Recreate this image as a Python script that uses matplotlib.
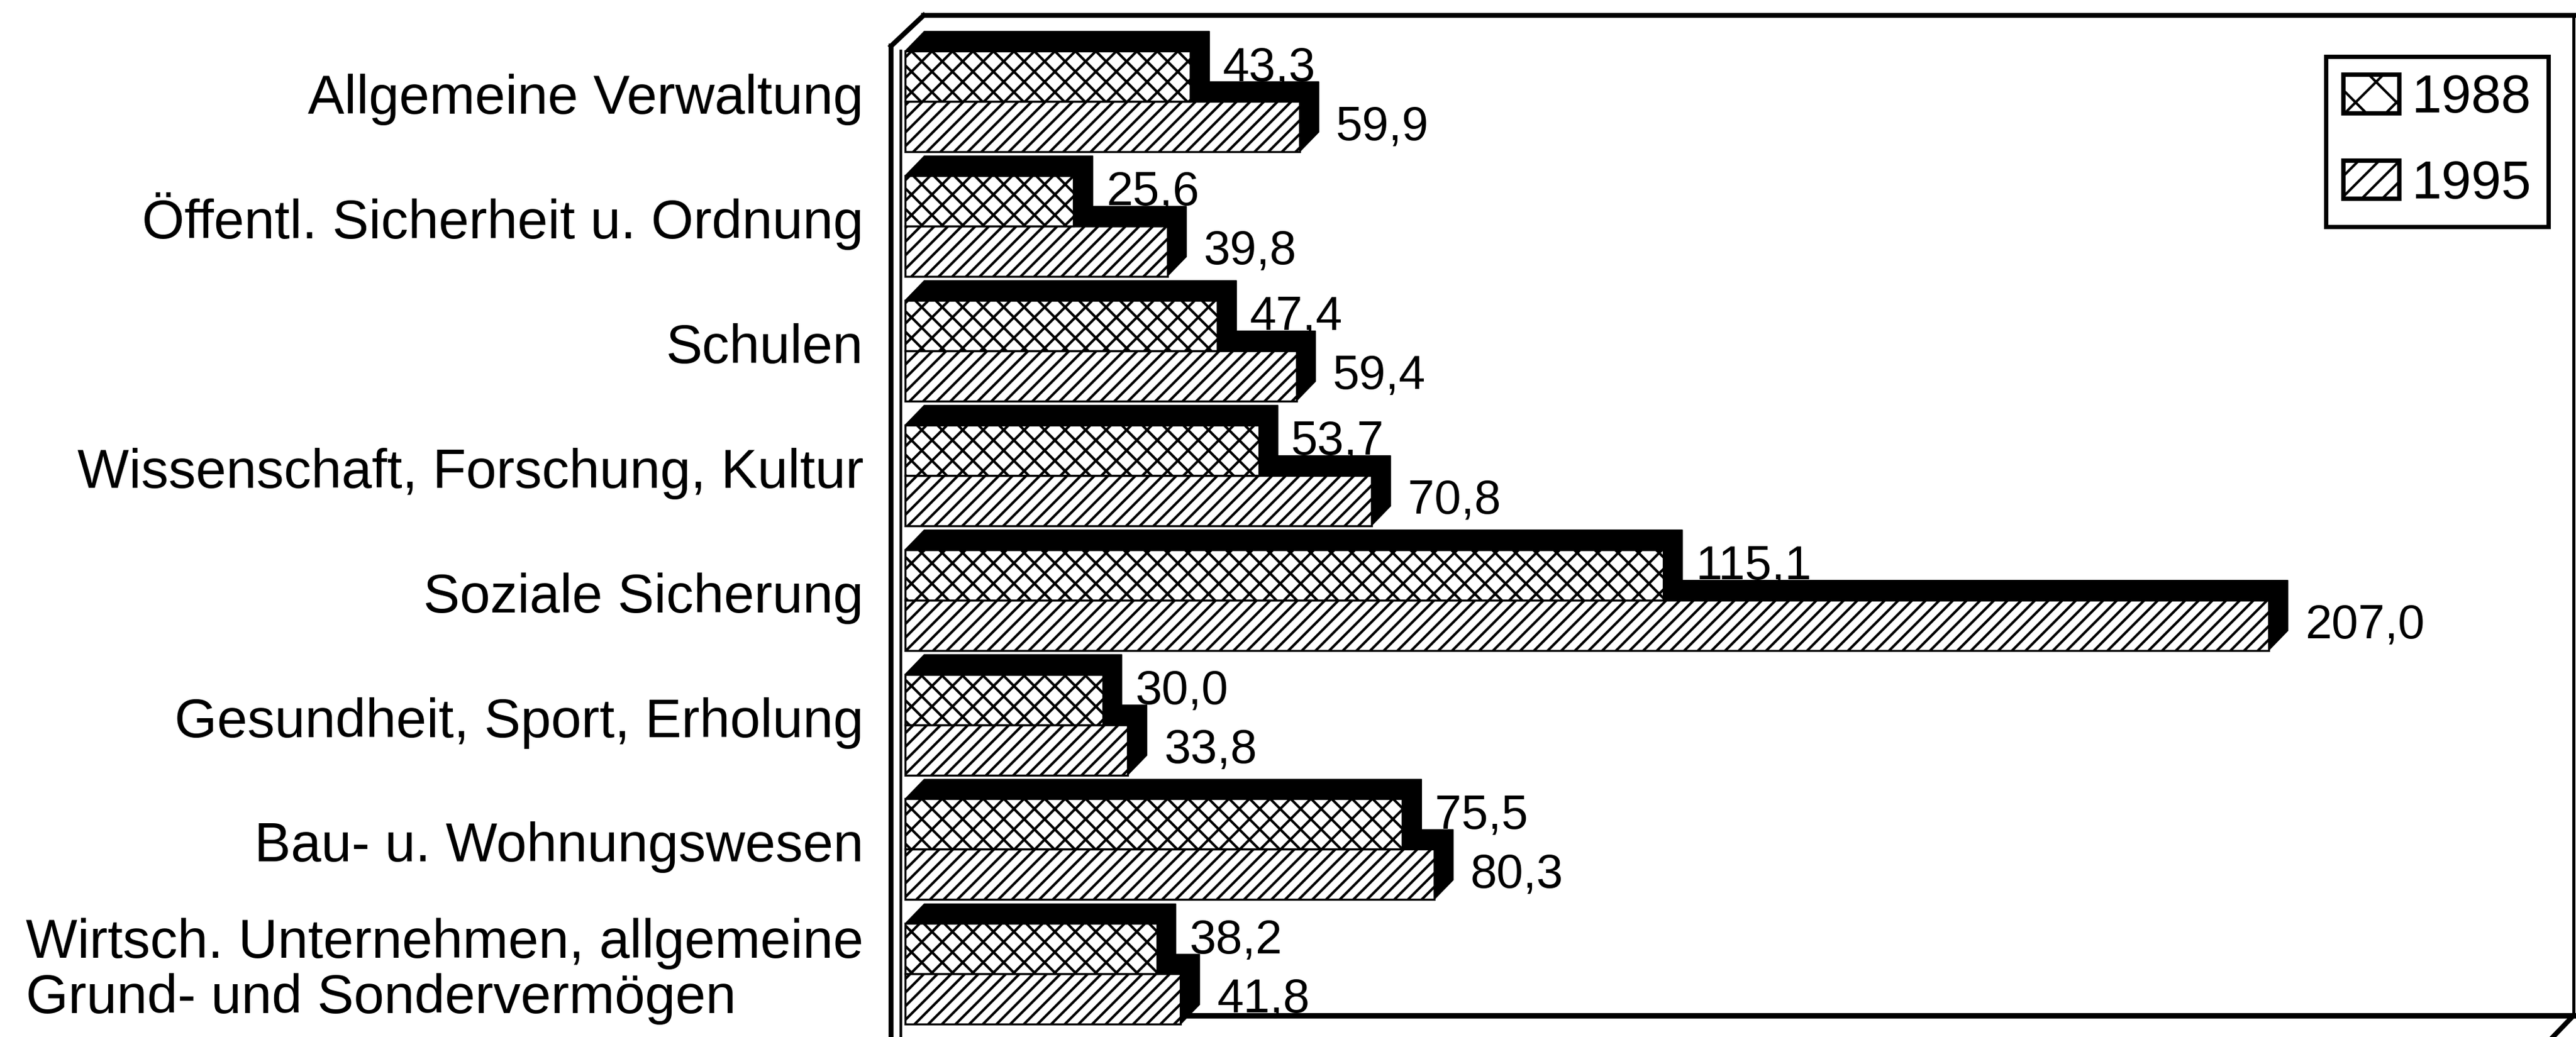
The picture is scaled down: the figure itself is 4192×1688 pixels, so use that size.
import matplotlib
matplotlib.use("Agg")
import matplotlib.pyplot as plt
from matplotlib.patches import Polygon, Rectangle, Patch

# Ausgaben nach Aufgabenbereichen (Mrd.)
categories = [
    "Allgemeine Verwaltung",
    "Öffentl. Sicherheit u. Ordnung",
    "Schulen",
    "Wissenschaft, Forschung, Kultur",
    "Soziale Sicherung",
    "Gesundheit, Sport, Erholung",
    "Bau- u. Wohnungswesen",
    "Wirtsch. Unternehmen, allgemeine\nGrund- und Sondervermögen",
]
values_1988 = [43.3, 25.6, 47.4, 53.7, 115.1, 30.0, 75.5, 38.2]
values_1995 = [59.9, 39.8, 59.4, 70.8, 207.0, 33.8, 80.3, 41.8]
years = ["1988", "1995"]
hatches = ["xx", "///"]

plt.rcParams['font.family'] = ['Liberation Sans', 'DejaVu Sans']
plt.rcParams['hatch.linewidth'] = 1.5
plt.rcParams['hatch.color'] = 'black'

W, H, DPI = 4192, 1688, 200
X0 = 1473          # pixel column of value 0
PPU = 10.72        # pixels per value unit
TOP = 83           # pixel row of the first bar face
ROW = 202.9        # pixels per category

fig = plt.figure(figsize=(W / DPI, H / DPI), dpi=DPI)
ax = fig.add_axes([0, 0, 1, 1])
ax.set_xlim(-X0 / PPU, (W - X0) / PPU)
ax.set_ylim((H - TOP) / ROW, -TOP / ROW)
ax.axis('off')


def px(x, y):
    # pixel position -> data position
    return (x - X0) / PPU, (y - TOP) / ROW


def line(p, q, lw, z=1):
    (x1, y1), (x2, y2) = px(*p), px(*q)
    ax.plot([x1, x2], [y1, y2], color='black', lw=lw, solid_capstyle='projecting',
            zorder=z, clip_on=False)


bar_h = 82 / ROW
dx = 31 / PPU
dy = 32 / ROW

# back box of the 3d frame
line((1503, 25), (4188, 25), 2.9)
line((4188, 25), (4188, 1653), 1.8)
line((1503, 1653), (4188, 1653), 3.2)
line((4188, 1653), (4140, 1703), 2.9)

# bars, drawn bottom up so the upper bar hides the top face of the lower one
z = 3
for i in reversed(range(len(categories))):
    for j, vals in ((1, values_1995), (0, values_1988)):
        v = vals[i]
        y0 = i + j * bar_h
        y1 = y0 + bar_h
        depth = Polygon([(0, y0), (dx, y0 - dy), (v + dx, y0 - dy),
                         (v + dx, y1 - dy), (v, y1), (0, y1)],
                        closed=True, fc='black', ec='black', lw=0.5, zorder=z)
        face = Rectangle((0, y0), v, bar_h, fc='white', ec='black',
                         hatch=hatches[j], lw=1.2, zorder=z + 1)
        ax.add_patch(depth)
        ax.add_patch(face)
        z += 2

        off = -20 / ROW if j == 0 else -6 / ROW
        pad = 2.0 if j == 0 else 2.6
        ax.text(v + dx + pad, y0 + bar_h / 2 + off + 27.5 / ROW,
                f"{v:.1f}".replace('.', ','), ha='left', va='baseline',
                fontsize=28, zorder=100)

# left wall
line((1450, 75), (1503, 25), 2.9, z=200)
line((1450, 75), (1450, 1700), 2.9, z=200)
line((1466, 83), (1466, 1700), 1.6, z=200)

# category labels (baseline of the last line)
lab_x = (1405 - X0) / PPU
for i, cat in enumerate(categories):
    if '\n' in cat:
        y = i + bar_h + 64 / ROW
    else:
        y = i + bar_h + 20 / ROW
    ax.text(lab_x, y, cat, ha='right', va='baseline', fontsize=32,
            multialignment='left', linespacing=1.1)

handles = [Patch(facecolor='white', edgecolor='black', hatch='x', lw=2.6),
           Patch(facecolor='white', edgecolor='black', hatch='//', lw=2.6)]
leg = ax.legend(handles, years, loc='upper left',
                bbox_to_anchor=(3785 / W, 1 - 92 / H), bbox_transform=fig.transFigure,
                borderaxespad=0, fontsize=31.5, handlelength=1.04, handleheight=0.72,
                handletextpad=0.23, labelspacing=0.67, borderpad=0.32,
                fancybox=False, framealpha=1)
leg.get_frame().set_edgecolor('black')
leg.get_frame().set_linewidth(2.5)
leg.set_zorder(300)

fig.savefig("out.png", dpi=DPI, facecolor='white')
